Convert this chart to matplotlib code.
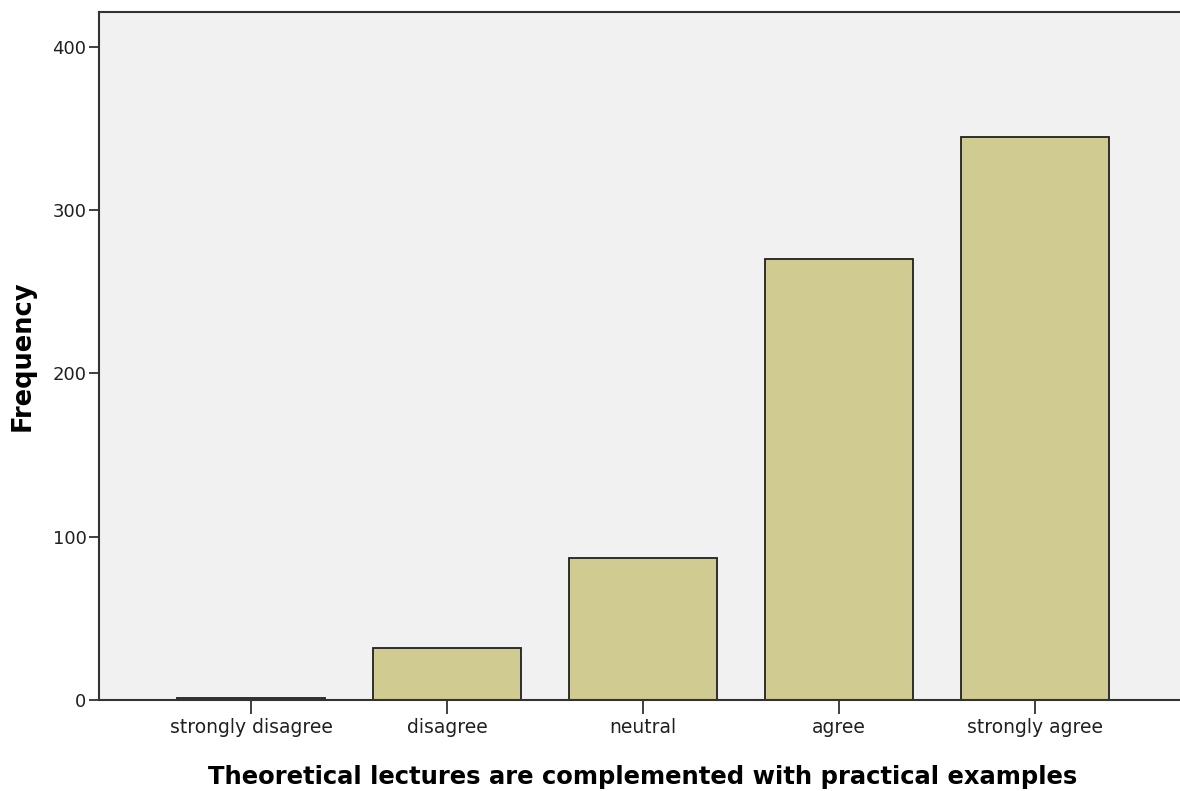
import matplotlib.pyplot as plt

categories = ["strongly disagree", "disagree", "neutral", "agree", "strongly agree"]
frequencies = [1, 32, 87, 270, 345]
y_ticks = [0, 100, 200, 300, 400]

plt.rcParams['font.family'] = ['DejaVu Sans']

fig = plt.figure(figsize=(11.8, 7.91), dpi=100)
ax = fig.add_axes([0.0839, 0.115, 0.922, 0.8698])
ax.set_facecolor('#f0f1f0')

x = range(len(categories))
ax.bar(x, frequencies, width=0.755, color='#d0cb91', edgecolor='#202020', linewidth=1.3)

ax.set_xlim(-0.776, 4.776)
ax.set_ylim(0, 421.4)
ax.set_xticks(list(x))
ax.set_xticklabels(categories, fontsize=13.5, color='#202020')
ax.set_yticks(y_ticks)
ax.set_yticklabels([str(v) for v in y_ticks], fontsize=13, color='#202020')
ax.tick_params(axis='x', length=10, width=1.2, color='#202020', pad=3)
ax.tick_params(axis='y', length=7, width=1.2, color='#202020', pad=2)

for side in ['left', 'top', 'bottom', 'right']:
    ax.spines[side].set_linewidth(1.5)
    ax.spines[side].set_color('#333333')

ax.set_xlabel('Theoretical lectures are complemented with practical examples',
              fontsize=17.5, fontweight='bold', labelpad=20)
ax.set_ylabel('Frequency', fontsize=18.5, fontweight='bold', labelpad=12)

fig.savefig('out.png', dpi=100)
